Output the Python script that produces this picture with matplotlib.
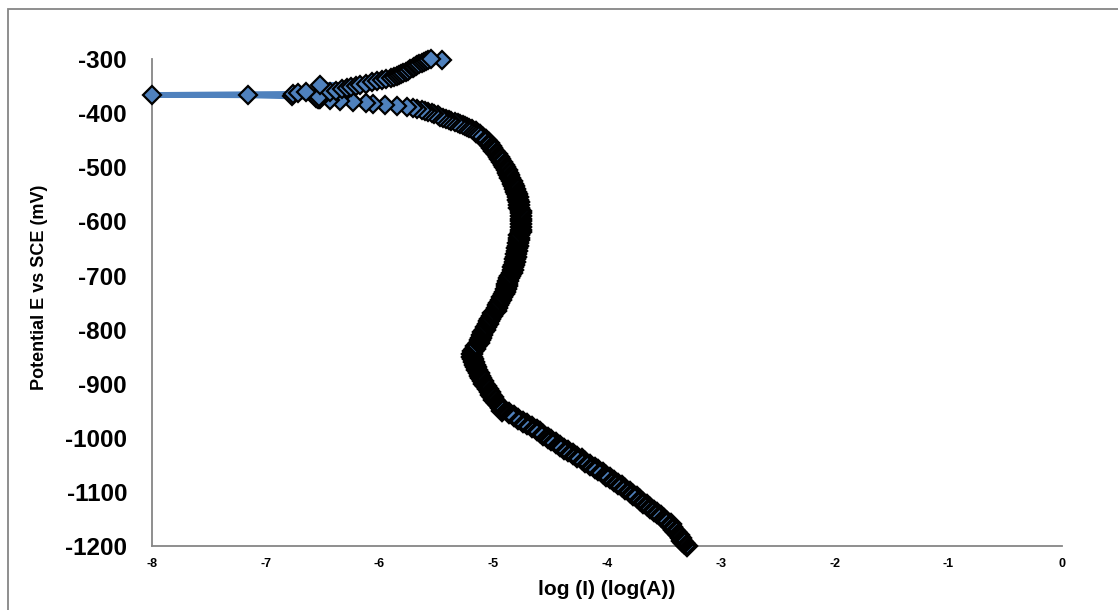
import matplotlib
matplotlib.use('Agg')
import matplotlib.pyplot as plt
from matplotlib.patches import Rectangle

plt.rcParams['font.family'] = ['Liberation Sans', 'DejaVu Sans']
plt.rcParams['axes.unicode_minus'] = False

# cathodic branch, 5 mV steps
e_cath = [-1200, -1195, -1190, -1185, -1180, -1175, -1170, -1165, -1160, -1155,
          -1150, -1145, -1140, -1135, -1130, -1125, -1120, -1115, -1110, -1105,
          -1100, -1095, -1090, -1085, -1080, -1075, -1070, -1065, -1060, -1055,
          -1050, -1045, -1040, -1035, -1030, -1025, -1020, -1015, -1010, -1005,
          -1000, -995, -990, -985, -980, -975, -970, -965, -960, -955,
          -950, -945, -940, -935, -930, -925, -920, -915, -910, -905,
          -900, -895, -890, -885, -880, -875, -870, -865, -860, -855,
          -850, -845, -840, -835, -830, -825, -820, -815, -810, -805,
          -800, -795, -790, -785, -780, -775, -770, -765, -760, -755,
          -750, -745, -740, -735, -730, -725, -720, -715, -710, -705,
          -700, -695, -690, -685, -680, -675, -670, -665, -660, -655,
          -650, -645, -640, -635, -630, -625, -620, -615, -610, -605,
          -600, -595, -590, -585, -580, -575, -570, -565, -560, -555,
          -550, -545, -540, -535, -530, -525, -520, -515, -510, -505,
          -500, -495, -490, -485, -480, -475, -470, -465, -460, -455,
          -450, -445, -440, -435]
logi_cath = [-3.30, -3.32, -3.34, -3.35, -3.37, -3.39, -3.41, -3.43, -3.44, -3.47,
             -3.50, -3.53, -3.56, -3.59, -3.62, -3.65, -3.68, -3.71, -3.74, -3.77,
             -3.80, -3.84, -3.87, -3.90, -3.94, -3.97, -4.01, -4.04, -4.08, -4.11,
             -4.15, -4.19, -4.22, -4.26, -4.30, -4.34, -4.38, -4.41, -4.45, -4.49,
             -4.52, -4.56, -4.59, -4.62, -4.66, -4.70, -4.74, -4.78, -4.82, -4.86,
             -4.92, -4.93, -4.95, -4.97, -4.99, -5.00, -5.02, -5.03, -5.05, -5.06,
             -5.08, -5.09, -5.11, -5.12, -5.13, -5.14, -5.15, -5.16, -5.17, -5.18,
             -5.19, -5.19, -5.18, -5.16, -5.15, -5.13, -5.12, -5.11, -5.10, -5.09,
             -5.07, -5.06, -5.05, -5.04, -5.03, -5.01, -5.00, -4.98, -4.97, -4.96,
             -4.95, -4.93, -4.92, -4.91, -4.90, -4.89, -4.88, -4.88, -4.87, -4.86,
             -4.85, -4.84, -4.83, -4.83, -4.82, -4.81, -4.81, -4.80, -4.80, -4.79,
             -4.79, -4.78, -4.78, -4.77, -4.77, -4.77, -4.76, -4.76, -4.76, -4.76,
             -4.76, -4.76, -4.76, -4.76, -4.76, -4.77, -4.77, -4.77, -4.78, -4.78,
             -4.79, -4.80, -4.81, -4.82, -4.83, -4.84, -4.85, -4.86, -4.87, -4.88,
             -4.90, -4.91, -4.92, -4.94, -4.95, -4.97, -4.99, -5.01, -5.02, -5.04,
             -5.06, -5.09, -5.12, -5.15]

# approach to Ecorr, 2 mV steps
e_near = [-430, -428, -426, -424, -422, -420, -418, -416, -414, -412, -410,
          -408, -406, -404, -402, -400, -398, -396, -394, -392, -390, -388]
logi_near = [-5.19, -5.21, -5.23, -5.25, -5.27, -5.29, -5.31, -5.34, -5.37, -5.39, -5.42,
             -5.44, -5.47, -5.49, -5.52, -5.54, -5.57, -5.60, -5.63, -5.67, -5.71, -5.76]

# around Ecorr and anodic branch
e_anod = [-386, -384, -383, -381, -380, -378, -376, -374, -372, -373, -371, -374,
          -370, -369, -367, -366, -364, -363, -361, -360, -358, -356, -354, -352,
          -350, -348, -347, -345, -343, -341, -339, -337, -335, -333, -331, -329,
          -327, -325, -323, -321, -319, -317, -315, -313, -311, -309, -307, -305,
          -303, -302, -301, -300]
logi_anod = [-5.85, -5.95, -6.06, -6.12, -6.23, -6.35, -6.44, -6.52, -6.55, -6.53, -6.56, -6.54,
             -6.53, -6.77, -7.16, -8.00, -6.76, -6.72, -6.65, -6.44, -6.38, -6.33, -6.29, -6.25,
             -6.21, -6.52, -6.17, -6.12, -6.07, -6.02, -5.98, -5.94, -5.90, -5.87, -5.85, -5.83,
             -5.81, -5.79, -5.77, -5.75, -5.73, -5.71, -5.70, -5.68, -5.67, -5.65, -5.63, -5.61,
             -5.59, -5.45, -5.57, -5.55]

potential = e_cath + e_near + e_anod
log_i = logi_cath + logi_near + logi_anod

x_ticks = [-8, -7, -6, -5, -4, -3, -2, -1, 0]
y_ticks = [-1200, -1100, -1000, -900, -800, -700, -600, -500, -400, -300]

blue = '#4F81BD'

fig = plt.figure(figsize=(11.18, 6.10), dpi=100)
fig.patches.append(Rectangle((8 / 1118, -0.1), 1.2, 1.1 - 9 / 610,
                             transform=fig.transFigure, fill=False,
                             ec='#868686', lw=1.3))

ax = fig.add_axes([0.136, 0.105, 0.814, 0.798])
# connecting line under all markers
ax.plot(log_i, potential, color=blue, lw=4, clip_on=False, zorder=3)
# dense cathodic sweep: heavier outlines merge into a dark band
ax.plot(logi_cath, e_cath, ls='none', marker='D', ms=8.7, mfc=blue,
        mec='black', mew=2.8, clip_on=False, zorder=4)
ax.plot(logi_near + logi_anod, e_near + e_anod, ls='none', marker='D', ms=9.4,
        mfc=blue, mec='black', mew=1.6, clip_on=False, zorder=4)

ax.set_xlim(-8, 0)
ax.set_ylim(-1200, -300)
ax.set_xticks(x_ticks)
ax.set_yticks(y_ticks)
ax.tick_params(length=0)
ax.tick_params(axis='x', labelsize=9, pad=9)
ax.tick_params(axis='y', labelsize=17.5, pad=18)
for lab in ax.get_xticklabels() + ax.get_yticklabels():
    lab.set_fontweight('bold')

for side in ['top', 'right']:
    ax.spines[side].set_visible(False)
for side in ['left', 'bottom']:
    ax.spines[side].set_color('#868686')
    ax.spines[side].set_linewidth(1.3)
    ax.spines[side].set_zorder(1)

ax.set_xlabel('log (I) (log(A))', fontsize=15, fontweight='bold', labelpad=7)
fig.text(40 / 1118, 1 - 287 / 610, 'Potential E vs SCE (mV)', rotation=90,
         fontsize=13, fontweight='bold', ha='center', va='center')

fig.savefig('out.png', dpi=100)
